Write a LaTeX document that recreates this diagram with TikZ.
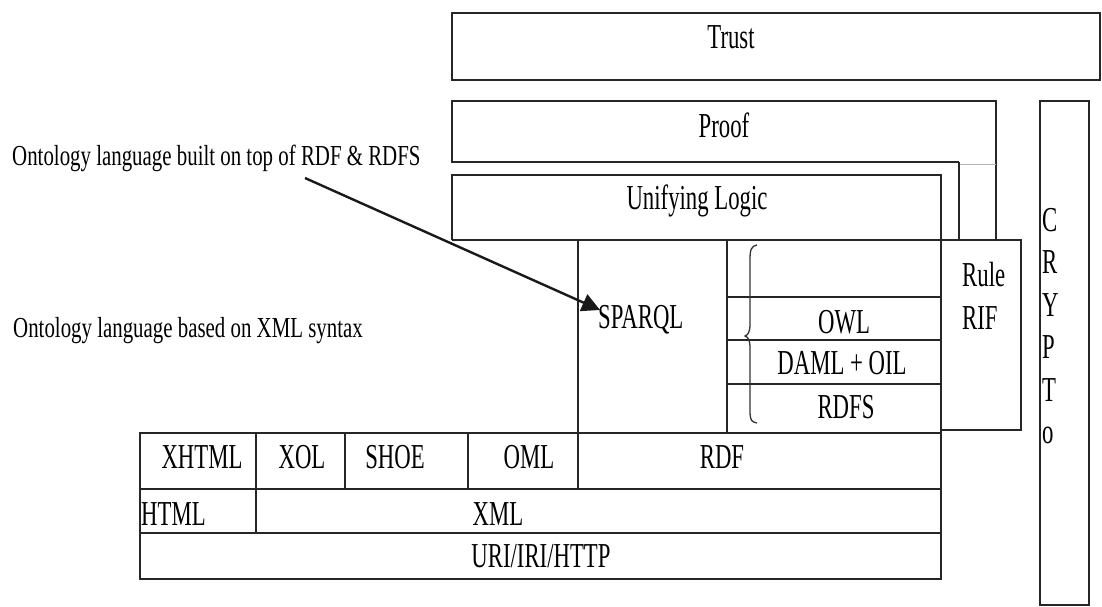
\documentclass[tikz,border=0pt]{standalone}
\usepackage{fontspec}
\setmainfont{Liberation Serif}
\newfontfamily\layerfont{Liberation Serif}[FakeStretch=0.65]
\newfontfamily\notefont{Liberation Serif}[FakeStretch=0.72]
\usetikzlibrary{arrows.meta,calc}
\begin{document}
\begin{tikzpicture}[x=1pt,y=-1pt,
  frame/.style={draw=black!85,line width=1.9pt},
  thin frame/.style={draw=black!80,line width=1.3pt},
  lbl/.style={inner sep=0pt,anchor=base,font=\layerfont\fontsize{35}{38}\selectfont},
  lblw/.style={lbl,anchor=base west},
  note/.style={inner sep=0pt,anchor=base west,font=\notefont\fontsize{29}{32}\selectfont}]
\useasboundingbox (0,0) rectangle (1102,607);

% upper layers
\draw[frame] (452,13) rectangle (1100,80);
\draw[frame] (959,162) -- (452,162) -- (452,101) -- (996,101) -- (996,240);
\draw[black!30,line width=1pt] (959,164.5) -- (996,164.5);
\draw[frame] (959,162) -- (959,240);
\draw[frame] (452,240) -- (452,175) -- (941,175) -- (941,433);

% query / ontology / rule layer
\draw[frame] (452,240) -- (1021,240) -- (1021,430) -- (941,430);
\draw[frame] (578,240) -- (578,433);
\draw[frame] (727,240) -- (727,433);
\draw[frame] (727,297) -- (941,297);
\draw[frame,line width=2.6pt] (727,340) -- (941,340);
\draw[frame] (727,384) -- (941,384);
\draw[thin frame] (757,245) .. controls (751,246) and (750,250) .. (750,260)
  -- (750,324) .. controls (750,332) and (748,335) .. (745,336)
  .. controls (748,337) and (750,340) .. (750,348)
  -- (750,410) .. controls (750,420) and (751,422) .. (757,423);

% lower layers
\draw[frame] (140,433) rectangle (941,579);
\draw[frame] (140,489) -- (941,489);
\draw[frame] (140,533) -- (941,533);
\draw[frame] (256,433) -- (256,533);
\draw[frame] (345,433) -- (345,489);
\draw[frame] (468,433) -- (468,489);
\draw[frame] (578,433) -- (578,489);

% crypto column
\draw[frame] (1040,101) rectangle (1089,605);

% layer names
\node[lbl] (trust) at (731,49) {Trust};
\node[lbl] (proof) at (724,137) {Proof};
\node[lbl] (logic) at (697,209) {Unifying Logic};
\node[lblw] (sparql) at (598,328) {SPARQL};
\node[lbl] (owl) at (844,333) {OWL};
\node[lbl] (daml) at (842,374) {DAML + OIL};
\node[lbl] (rdfs) at (846,418) {RDFS};
\node[lblw] (rule) at (962,286) {Rule};
\node[lblw] (rif) at (962,329) {RIF};
\node[lbl] (xhtml) at (202,468) {XHTML};
\node[lbl] (xol) at (302,468) {XOL};
\node[lbl] (shoe) at (395,468) {SHOE};
\node[lbl] (oml) at (529,468) {OML};
\node[lbl] (rdf) at (722,468) {RDF};
\node[lblw] (html) at (141,525) {HTML};
\node[lbl] (xml) at (498,525) {XML};
\node[lbl] (uri) at (541,567) {URI/IRI/HTTP};
\foreach \ch [count=\i from 0] in {C,R,Y,P,T,o}
  \node[lblw] (crypto\i) at (1042,231+42.5*\i) {\ch};

% annotations
\node[note] (ontrdf) at (12,165) {Ontology language built on top of RDF \& RDFS};
\node[note] (ontxml) at (13,337) {Ontology language based on XML syntax};
\coordinate (from) at (305,178);
\coordinate (to) at ($(sparql.base west)+(2,-18)$);
\draw[line width=2.4pt,black!90,-{Triangle[length=18pt,width=18pt]}] (from) -- (to);
\end{tikzpicture}
\end{document}
